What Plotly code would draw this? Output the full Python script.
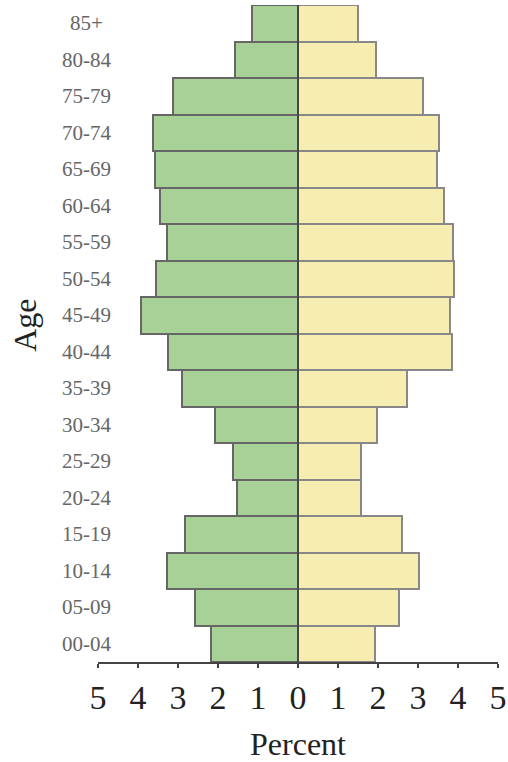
import plotly.graph_objects as go

# faixas etárias, de baixo para cima
idades = ["00-04", "05-09", "10-14", "15-19", "20-24", "25-29", "30-34", "35-39", "40-44",
          "45-49", "50-54", "55-59", "60-64", "65-69", "70-74", "75-79", "80-84", "85+"]

# percentuais
esquerda = [2.18, 2.57, 3.27, 2.82, 1.52, 1.62, 2.08, 2.90, 3.24,
            3.92, 3.55, 3.27, 3.44, 3.57, 3.63, 3.13, 1.57, 1.15]
direita = [1.92, 2.52, 3.02, 2.61, 1.58, 1.58, 1.98, 2.73, 3.85,
           3.79, 3.91, 3.88, 3.64, 3.47, 3.53, 3.13, 1.94, 1.49]

ticks_x = [-5, -4, -3, -2, -1, 0, 1, 2, 3, 4, 5]
texto_x = [str(abs(t)) for t in ticks_x]

fonte = "Liberation Serif"

fig = go.Figure()

fig.add_trace(go.Bar(
    y=idades,
    x=[-v for v in esquerda],
    orientation='h',
    marker=dict(color='#A8D198', line=dict(color='#666666', width=2)),
    showlegend=False
))

fig.add_trace(go.Bar(
    y=idades,
    x=direita,
    orientation='h',
    marker=dict(color='#F7EDB1', line=dict(color='#888888', width=2)),
    showlegend=False
))

# linha central
fig.add_shape(type='line', x0=0, x1=0, y0=0, y1=1, xref='x', yref='paper',
              line=dict(color='#333333', width=1.5), layer='above')

# rótulos das idades centralizados (como no original)
for idade in idades:
    fig.add_annotation(
        x=-0.03, xref='paper', xanchor='center',
        y=idade, yref='y', yanchor='middle',
        text=idade, showarrow=False,
        font=dict(size=21, color='#666666', family=fonte)
    )

# título do eixo y
fig.add_annotation(
    x=-0.183, xref='paper', xanchor='center',
    y=0.513, yref='paper', yanchor='middle',
    text='Age', textangle=-90, showarrow=False,
    font=dict(size=32, color='#222222', family=fonte)
)

fig.update_layout(
    width=508,
    height=762,
    margin=dict(l=98, r=10, t=5, b=100),
    plot_bgcolor='white',
    paper_bgcolor='white',
    barmode='overlay',
    bargap=0,
    font=dict(family=fonte),
    xaxis=dict(
        range=[-5, 5],
        tickvals=ticks_x,
        ticktext=texto_x,
        tickfont=dict(size=34, color='#222222'),
        ticks='outside',
        ticklen=4,
        tickcolor='#444444',
        tickwidth=1.5,
        showline=True,
        linecolor='#444444',
        linewidth=1.5,
        showgrid=False,
        zeroline=False,
        automargin=False,
        title=dict(text='Percent', font=dict(size=32, color='#222222'), standoff=20),
    ),
    yaxis=dict(
        type='category',
        range=[-0.5, 17.5],
        showticklabels=False,
        showgrid=False,
        showline=False,
        zeroline=False,
        automargin=False,
    ),
)

# tira a margem padrão do <body> para a figura ocupar a janela toda
fig.write_html("out.html", config={'displayModeBar': False},
               post_script="document.body.style.margin='0';")
